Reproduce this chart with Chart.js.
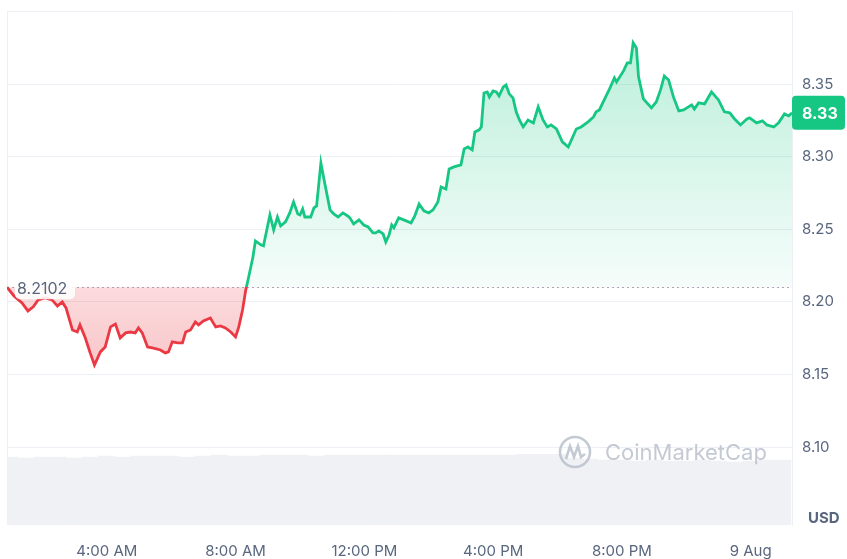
<!DOCTYPE html>
<html>
<head>
<meta charset="utf-8">
<script src="https://cdn.jsdelivr.net/npm/chart.js@4"></script>
<style>
  html, body { margin: 0; padding: 0; background: #fff; }
  canvas { display: block; }
</style>
</head>
<body>
<canvas id="priceChart" width="847" height="559"></canvas>
<script>
// minutes since 00:00 on 8 Aug
const priceTimes = [54,67,82,93,103,112,125,138,148,157,164,176,185,190,200,209,217,228,237,247,256,265,275,284,293,299,306,316,325,340,349,355,362,372,381,387,396,405,411,420,433,443,452,461,471,480,486,493,499,504,512,517,527,532,544,551,558,564,573,581,588,596,600,605,609,620,626,631,639,646,656,663,671,680,689,693,700,710,719,727,736,741,747,755,760,766,771,775,784,798,807,814,822,831,840,848,857,863,872,878,887,900,906,913,921,926,934,938,943,949,953,960,966,971,979,984,990,997,1003,1009,1016,1025,1035,1044,1053,1061,1068,1078,1089,1100,1115,1124,1137,1147,1152,1158,1167,1177,1186,1190,1203,1210,1216,1221,1227,1231,1240,1255,1264,1272,1279,1287,1296,1306,1315,1324,1330,1335,1343,1354,1367,1380,1391,1401,1410,1421,1433,1438,1451,1462,1470,1483,1492,1503,1511,1517];
const prices = [8.2102,8.2041,8.1993,8.1938,8.1966,8.2014,8.2028,8.2014,8.1972,8.2000,8.1959,8.1807,8.1793,8.1842,8.1752,8.1649,8.1566,8.1656,8.1690,8.1828,8.1848,8.1752,8.1787,8.1793,8.1787,8.1821,8.1787,8.1690,8.1683,8.1669,8.1649,8.1656,8.1725,8.1718,8.1718,8.1793,8.1807,8.1862,8.1842,8.1869,8.1890,8.1828,8.1835,8.1821,8.1793,8.1759,8.1828,8.1945,8.2083,8.2165,8.2303,8.2420,8.2393,8.2386,8.2599,8.2496,8.2585,8.2523,8.2551,8.2613,8.2689,8.2606,8.2599,8.2640,8.2585,8.2585,8.2647,8.2661,8.2957,8.2820,8.2634,8.2606,8.2585,8.2613,8.2592,8.2579,8.2537,8.2565,8.2530,8.2517,8.2475,8.2475,8.2489,8.2468,8.2413,8.2461,8.2530,8.2510,8.2579,8.2558,8.2544,8.2592,8.2675,8.2627,8.2613,8.2634,8.2689,8.2792,8.2778,8.2916,8.2930,8.2944,8.3054,8.3067,8.3047,8.3171,8.3185,8.3205,8.3439,8.3446,8.3412,8.3453,8.3446,8.3419,8.3481,8.3494,8.3433,8.3405,8.3309,8.3253,8.3205,8.3253,8.3233,8.3343,8.3253,8.3205,8.3219,8.3191,8.3102,8.3067,8.3191,8.3205,8.3240,8.3274,8.3309,8.3322,8.3391,8.3467,8.3543,8.3515,8.3591,8.3646,8.3646,8.3784,8.3749,8.3550,8.3398,8.3336,8.3377,8.3460,8.3556,8.3529,8.3412,8.3315,8.3322,8.3343,8.3357,8.3329,8.3371,8.3364,8.3446,8.3391,8.3309,8.3302,8.3260,8.3219,8.3260,8.3267,8.3233,8.3247,8.3219,8.3205,8.3233,8.3295,8.3281,8.3302];
const baseline = 8.2102;

// volume, one bar per 30 min starting 01:00
const volStart = 60, volStep = 30;
const volumes = [6.8,6.7,6.8,6.8,6.7,6.8,6.9,6.8,6.9,6.9,6.9,6.8,6.9,7.0,6.9,6.9,7.0,7.0,7.0,6.9,7.0,7.0,7.0,7.0,7.0,7.0,7.0,7.0,7.0,7.0,7.0,7.0,7.1,7.1,7.1,6.7,6.6,6.5,6.5,6.4,6.5,6.4,6.4,6.5,6.4,6.3,6.4,6.5,6.5];

const xTickValues = [240, 480, 720, 960, 1200, 1440];
const xTickLabels = ['4:00 AM', '8:00 AM', '12:00 PM', '4:00 PM', '8:00 PM', '9 Aug'];
const yTickValues = [8.10, 8.15, 8.20, 8.25, 8.30, 8.35, 8.40];

const GREEN = '#16c784', RED = '#ea3943', TXT = '#58667e', GRID = '#eceff3';

function baseFrac(chart) {
  const a = chart.chartArea;
  const yb = chart.scales.y.getPixelForValue(baseline);
  return Math.min(1, Math.max(0, (yb - a.top) / (a.bottom - a.top)));
}

function lineColor(context) {
  const chart = context.chart;
  if (!chart.chartArea) return GREEN;
  const a = chart.chartArea;
  const f = baseFrac(chart);
  const g = chart.ctx.createLinearGradient(0, a.top, 0, a.bottom);
  g.addColorStop(0, GREEN);
  g.addColorStop(f, GREEN);
  g.addColorStop(f, RED);
  g.addColorStop(1, RED);
  return g;
}

function fillColor(context) {
  const chart = context.chart;
  if (!chart.chartArea) return 'rgba(22,199,132,0.1)';
  const a = chart.chartArea;
  const f = baseFrac(chart);
  const g = chart.ctx.createLinearGradient(0, a.top, 0, a.bottom);
  g.addColorStop(0, 'rgba(22,199,132,0.32)');
  g.addColorStop(f, 'rgba(22,199,132,0.04)');
  g.addColorStop(f, 'rgba(234,57,67,0.18)');
  g.addColorStop(Math.min(1, f + 0.3), 'rgba(234,57,67,0.38)');
  g.addColorStop(1, 'rgba(234,57,67,0.45)');
  return g;
}

function roundRect(ctx, x, y, w, h, r) {
  ctx.beginPath();
  ctx.moveTo(x + r, y);
  ctx.arcTo(x + w, y, x + w, y + h, r);
  ctx.arcTo(x + w, y + h, x, y + h, r);
  ctx.arcTo(x, y + h, x, y, r);
  ctx.arcTo(x, y, x + w, y, r);
  ctx.closePath();
}

const overlay = {
  id: 'overlay',
  beforeDatasetsDraw(chart) {
    const {ctx, chartArea: a, scales: {y}} = chart;
    ctx.save();
    // left frame line
    ctx.strokeStyle = GRID;
    ctx.lineWidth = 1;
    ctx.beginPath();
    ctx.moveTo(a.left + 0.5, a.top);
    ctx.lineTo(a.left + 0.5, a.bottom);
    ctx.stroke();
    // dotted reference line at the opening price
    const yb = Math.round(y.getPixelForValue(baseline)) + 0.5;
    ctx.setLineDash([2, 3]);
    ctx.strokeStyle = '#a6afbf';
    ctx.beginPath();
    ctx.moveTo(a.left, yb);
    ctx.lineTo(a.right, yb);
    ctx.stroke();
    ctx.restore();
  },
  afterDatasetsDraw(chart) {
    const {ctx, chartArea: a, scales: {y}} = chart;
    ctx.save();
    // watermark
    const cx = a.right - 217, cy = a.bottom - 73;
    ctx.strokeStyle = 'rgba(186,193,205,0.85)';
    ctx.lineWidth = 2.6;
    ctx.beginPath();
    ctx.arc(cx, cy, 15, 0, Math.PI * 2);
    ctx.stroke();
    ctx.beginPath();
    ctx.moveTo(cx - 9, cy + 7);
    ctx.lineTo(cx - 5, cy - 6);
    ctx.lineTo(cx - 1, cy + 5);
    ctx.lineTo(cx + 3, cy - 6);
    ctx.lineTo(cx + 6, cy + 5);
    ctx.lineTo(cx + 10, cy + 2);
    ctx.stroke();
    ctx.fillStyle = 'rgba(186,193,205,0.85)';
    ctx.font = '22px Inter, "Noto Sans", sans-serif';
    ctx.textBaseline = 'middle';
    ctx.textAlign = 'left';
    ctx.fillText('CoinMarketCap', cx + 30, cy + 1);

    // opening price label
    const yb = y.getPixelForValue(baseline);
    ctx.fillStyle = 'rgba(255,255,255,0.88)';
    roundRect(ctx, a.left + 8, yb - 11, 60, 23, 5);
    ctx.fill();
    ctx.fillStyle = TXT;
    ctx.font = '16px Inter, "Noto Sans", sans-serif';
    ctx.fillText(baseline.toFixed(4), a.left + 10, yb + 2);

    // last price badge
    const last = prices[prices.length - 1];
    const yl = y.getPixelForValue(last);
    ctx.fillStyle = GREEN;
    roundRect(ctx, a.right, yl - 17, 53, 34, 4);
    ctx.fill();
    ctx.fillStyle = '#fff';
    ctx.font = 'bold 16px Inter, "Noto Sans", sans-serif';
    ctx.fillText(last.toFixed(2), a.right + 10, yl + 1);

    // currency
    ctx.fillStyle = TXT;
    ctx.font = 'bold 15px Inter, "Noto Sans", sans-serif';
    ctx.fillText('USD', a.right + 16, a.bottom - 7);
    ctx.restore();
  }
};

new Chart(document.getElementById('priceChart').getContext('2d'), {
  data: {
    datasets: [{
      type: 'line',
      label: 'Price',
      data: priceTimes.map((t, i) => ({x: t, y: prices[i]})),
      yAxisID: 'y',
      borderColor: lineColor,
      backgroundColor: fillColor,
      borderWidth: 2.8,
      pointRadius: 0,
      tension: 0,
      fill: {value: baseline}
    }, {
      type: 'bar',
      label: 'Volume',
      data: volumes.map((v, i) => ({x: volStart + i * volStep, y: v})),
      yAxisID: 'yVol',
      backgroundColor: '#eff1f4',
      borderWidth: 0,
      barPercentage: 1,
      categoryPercentage: 1
    }]
  },
  options: {
    responsive: false,
    animation: false,
    layout: {padding: {left: 7, top: 11.5, right: 0, bottom: 0}},
    plugins: {legend: {display: false}, tooltip: {enabled: false}},
    scales: {
      x: {
        type: 'linear',
        offset: false,
        min: 54,
        max: 1517,
        afterBuildTicks: s => { s.ticks = xTickValues.map(v => ({value: v})); },
        afterFit: s => { s.height = 34; s.paddingLeft = 0; s.paddingRight = 0; },
        grid: {display: false, offset: false},
        border: {display: false},
        ticks: {
          autoSkip: false,
          maxRotation: 0,
          padding: 9,
          color: TXT,
          font: {family: 'Inter', size: 15},
          callback: v => xTickLabels[xTickValues.indexOf(v)]
        }
      },
      y: {
        position: 'right',
        min: 8.0464,
        max: 8.40,
        afterBuildTicks: s => { s.ticks = yTickValues.map(v => ({value: v})); },
        afterFit: s => { s.width = 55; s.paddingTop = 0; s.paddingBottom = 0; },
        grid: {color: GRID, drawTicks: false},
        border: {display: true, color: GRID},
        ticks: {
          padding: 10,
          color: TXT,
          font: {family: 'Inter', size: 15},
          callback: v => (v > 8.399 ? '' : v.toFixed(2))
        }
      },
      yVol: {
        display: false,
        min: 0,
        max: 51.5
      }
    }
  },
  plugins: [overlay]
});
</script>
</body>
</html>
